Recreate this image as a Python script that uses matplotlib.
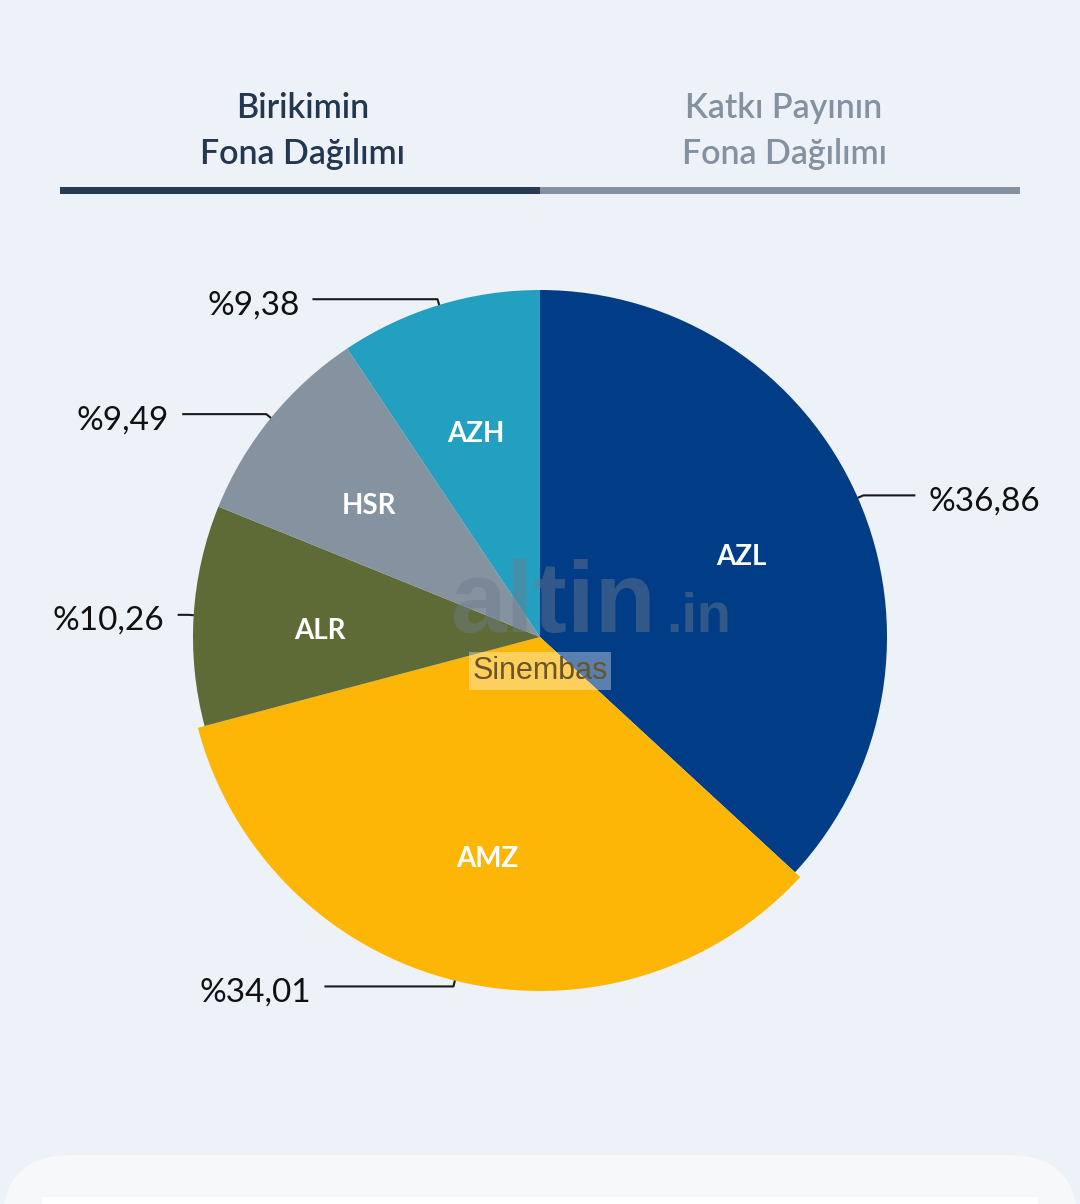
import numpy as np
import matplotlib.pyplot as plt
from matplotlib.patches import FancyBboxPatch, Rectangle

# fund shares (Birikimin Fona Dağılımı)
funds = ['AZL', 'AMZ', 'ALR', 'HSR', 'AZH']
shares = [36.86, 34.01, 10.26, 9.49, 9.38]
share_labels = ['%36,86', '%34,01', '%10,26', '%9,49', '%9,38']
colors = ['#013d86', '#fdb606', '#5f6b37', '#8592a0', '#23a0bf']
tabs = ['Birikimin\nFona Dağılımı', 'Katkı Payının\nFona Dağılımı']

plt.rcParams['font.family'] = ['Lato', 'DejaVu Sans']

W, H = 1080, 1204
bg = '#edf2f8'
fig = plt.figure(figsize=(W / 100, H / 100), dpi=100)
fig.patch.set_facecolor(bg)
ax = fig.add_axes([0, 0, 1, 1])
ax.set_facecolor(bg)

# pixel coords, y measured from the top -> flip
def Y(y):
    return H - y

cx, cy, r = 540, Y(637), 347

wedges, texts = ax.pie(shares, colors=colors, labels=funds, labeldistance=0.635,
                       startangle=90, counterclock=False, radius=r, center=(cx, cy),
                       wedgeprops=dict(linewidth=0),
                       textprops=dict(color='white', fontsize=20, fontweight='bold'))
for t in texts:
    x, y = t.get_position()
    t.set_position((x, y - 8))
    t.set_ha('center')
    t.set_va('center')
# hovered slice drawn a bit larger
wedges[1].set_radius(r + 7)

# leader lines + percentage labels
line_len = [51, 128, 9, 83, 124]
for w, lab, ln in zip(wedges, share_labels, line_len):
    R = w.r
    th = np.deg2rad((w.theta1 + w.theta2) / 2)
    side = 1 if np.cos(th) > 0 else -1
    p0 = (cx + (R + 1) * np.cos(th), cy + (R + 1) * np.sin(th))
    p1 = (cx + (R + 6) * np.cos(th), cy + (R + 6) * np.sin(th))
    x2 = p1[0] + side * ln
    ax.plot([p0[0], p1[0], x2], [p0[1], p1[1], p1[1]], color='#1a1a1a', lw=1.5,
            solid_joinstyle='round')
    ax.text(x2 + side * 14, p1[1] - 6, lab, fontsize=24, color='#111111',
            ha='left' if side > 0 else 'right', va='center')

# watermark
ax.text(450, Y(632), 'altin', fontsize=72, fontweight='bold', color='#6d7b8b',
        alpha=0.45, ha='left', va='baseline', family=['Liberation Sans', 'DejaVu Sans'])
ax.text(666, Y(632), '.in', fontsize=40, fontweight='bold', color='#6d7b8b',
        alpha=0.45, ha='left', va='baseline', family=['Liberation Sans', 'DejaVu Sans'])
ax.text(540, Y(671), 'Sinembas', fontsize=22, color='#6a5428', ha='center', va='center',
        family=['Liberation Sans', 'DejaVu Sans'],
        bbox=dict(boxstyle='square,pad=0.12', fc='white', ec='none', alpha=0.35))

# tabs
ax.text(303, Y(131), tabs[0], fontsize=24.5, color='#233750', ha='center', va='center',
        linespacing=1.5, fontweight='semibold')
ax.text(784, Y(131), tabs[1], fontsize=24.5, color='#8391a0', ha='center', va='center',
        linespacing=1.5, fontweight='semibold')
ax.add_patch(Rectangle((60, Y(194)), 480, 7, color='#243a55', lw=0))
ax.add_patch(Rectangle((540, Y(194)), 480, 7, color='#8391a0', lw=0))

# bottom card
ax.add_patch(FancyBboxPatch((2, Y(1300)), 1076, 145,
                            boxstyle='round,pad=0,rounding_size=70',
                            fc='#f7f8fa', ec='none'))
ax.add_patch(Rectangle((42, 0), 996, 7, color='white', lw=0))

ax.set_xlim(0, W)
ax.set_ylim(0, H)
ax.set_aspect('equal')
ax.axis('off')

fig.savefig('out.png', dpi=100, facecolor=bg)
